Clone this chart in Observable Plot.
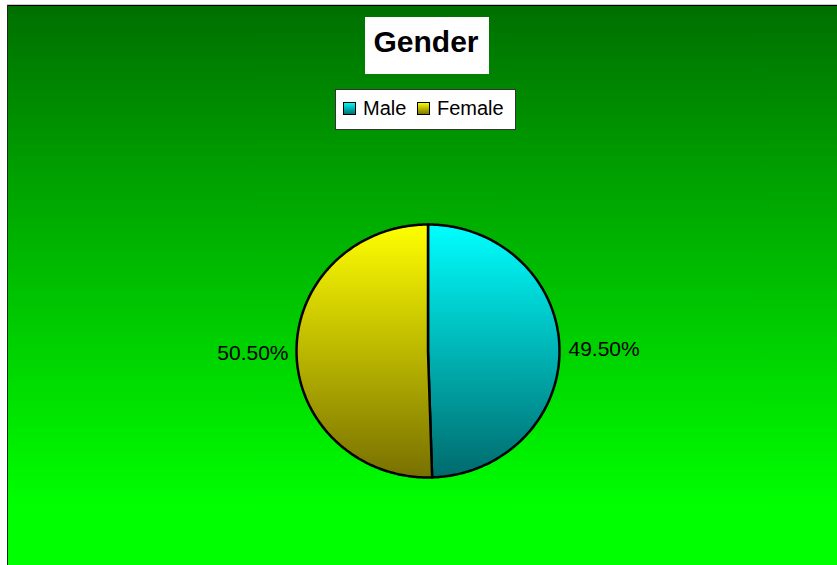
<!DOCTYPE html>
<html><head><meta charset="utf-8">
<script src="https://cdn.jsdelivr.net/npm/d3@7"></script>
<script src="https://cdn.jsdelivr.net/npm/@observablehq/plot@0.6"></script>
<style>html,body{margin:0;padding:0;background:#fff;}#chart svg{display:block;}</style>
</head><body><div id="chart"></div>
<script>
const title = "Gender";
const categories = ["Male", "Female"];
const values = [49.5, 50.5];
const labels = ["49.50%", "50.50%"];
const topColors = ["#00ffff", "#ffff00"];
const bottomColors = ["#006a6c", "#787000"];

const FONT = "'Liberation Sans', Arial, sans-serif";

const rows = categories.map((c, i) => ({category: c, value: values[i], label: labels[i], idx: i}));
const arcs = d3.pie().sort(null).value(d => d.value).startAngle(0).endAngle(2 * Math.PI)(rows);
const mid = a => (a.startAngle + a.endAngle) / 2;

const slicePts = arcs.map(a => {
  const n = Math.max(4, Math.ceil((a.endAngle - a.startAngle) / (Math.PI / 180)));
  const pts = [{x: 0, y: 0}];
  for (let k = 0; k <= n; k++) {
    const t = a.startAngle + (a.endAngle - a.startAngle) * k / n;
    pts.push({x: Math.sin(t), y: Math.cos(t)});
  }
  return pts;
});

function decorations() {
  const g = d3.create("svg:g");
  const defs = g.append("defs");
  const bg = defs.append("linearGradient").attr("id", "bgGrad")
    .attr("gradientUnits", "userSpaceOnUse").attr("x1", 0).attr("y1", 6).attr("x2", 0).attr("y2", 505);
  bg.append("stop").attr("offset", 0).attr("stop-color", "#006f00");
  bg.append("stop").attr("offset", 1).attr("stop-color", "#00ff00");
  categories.forEach((c, i) => {
    const lg = defs.append("linearGradient").attr("id", "grad" + i)
      .attr("x1", 0).attr("y1", 0).attr("x2", 0).attr("y2", 1);
    lg.append("stop").attr("offset", 0).attr("stop-color", topColors[i]);
    lg.append("stop").attr("offset", 1).attr("stop-color", bottomColors[i]);
  });
  // background + frame lines
  g.append("rect").attr("x", 8).attr("y", 6).attr("width", 829).attr("height", 559).attr("fill", "url(#bgGrad)");
  g.append("line").attr("x1", 7).attr("x2", 837).attr("y1", 4.5).attr("y2", 4.5).attr("stroke", "#c8c8c8");
  g.append("line").attr("x1", 7).attr("x2", 837).attr("y1", 5.5).attr("y2", 5.5).attr("stroke", "#000");
  g.append("line").attr("x1", 7.5).attr("x2", 7.5).attr("y1", 5).attr("y2", 565).attr("stroke", "#1a2a1a");
  // title
  g.append("rect").attr("x", 365).attr("y", 17).attr("width", 124).attr("height", 57).attr("fill", "#fff");
  g.append("text").attr("x", 426).attr("y", 52).attr("text-anchor", "middle")
    .attr("font-family", FONT).attr("font-weight", "bold").attr("font-size", 30).attr("fill", "#000").text(title);
  // legend
  g.append("rect").attr("x", 335.5).attr("y", 89.5).attr("width", 180).attr("height", 40)
    .attr("fill", "#fff").attr("stroke", "#333");
  const itemX = [343, 417];
  categories.forEach((c, i) => {
    g.append("rect").attr("x", itemX[i] + 0.5).attr("y", 102.5).attr("width", 12).attr("height", 12)
      .attr("fill", `url(#grad${i})`).attr("stroke", "#000");
    g.append("text").attr("x", itemX[i] + 20).attr("y", 115).attr("text-anchor", "start")
      .attr("font-family", FONT).attr("font-size", 20).attr("fill", "#000").text(c);
  });
  return g.node();
}

const sliceMarks = arcs.map((a, i) => Plot.line(slicePts[i], {
  x: "x", y: "y", curve: "linear-closed",
  fill: `url(#grad${i})`, stroke: "#000", strokeWidth: 2.5, strokeLinejoin: "round"
}));

const labelMarks = arcs.map(a => {
  const right = Math.sin(mid(a)) >= 0;
  return Plot.text([a], {
    x: d => Math.sin(mid(d)), y: d => Math.cos(mid(d)), text: d => d.data.label,
    textAnchor: right ? "start" : "end", dx: right ? 9 : -8, lineAnchor: "middle",
    fontSize: 21, fontFamily: FONT, fill: "#000"
  });
});

const chart = Plot.plot({
  width: 837, height: 565, margin: 0,
  x: {domain: [-1, 1], range: [296, 559], axis: null},
  y: {domain: [-1, 1], range: [477, 224], axis: null},
  style: {background: "transparent", overflow: "visible"},
  marks: [decorations, ...sliceMarks, ...labelMarks]
});
document.getElementById("chart").append(chart);
</script>
</body></html>
